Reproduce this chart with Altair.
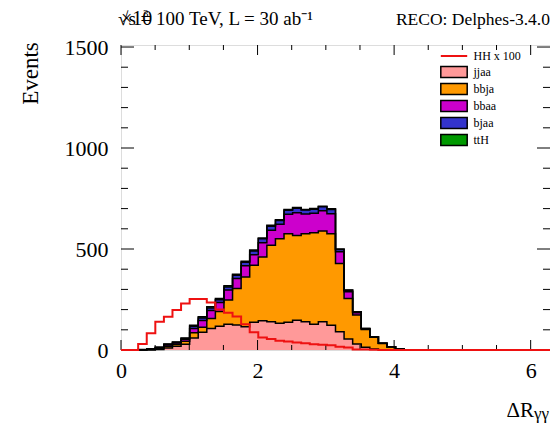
import altair as alt
import numpy as np
import pandas as pd

# ---------------- data (50 bins from 0 to 2*pi) ----------------
N_BINS = 50
X_MAX = 6.283185
jjaa = [0, 0, 0, 0, 2, 10, 18, 28, 60, 88, 106, 117, 127, 124, 115, 138, 145, 140, 133, 138,
        147, 140, 128, 140, 122, 90, 55, 30, 14, 5, 1, 0, 0, 0, 0, 0, 0, 0, 0, 0,
        0, 0, 0, 0, 0, 0, 0, 0, 0, 0]
bbja = [0, 0, 1, 2, 5, 8, 10, 15, 25, 25, 50, 73, 120, 180, 247, 281, 315, 378, 418, 438,
        420, 436, 452, 449, 454, 338, 200, 143, 88, 58, 31, 15, 4, 0, 0, 0, 0, 0, 0, 0,
        0, 0, 0, 0, 0, 0, 0, 0, 0, 0]
bbaa = [0, 0, 0.5, 2, 4, 7, 7, 10, 22, 33, 40, 45, 50, 50, 55, 53, 71, 75, 72, 96,
        113, 97, 97, 100, 98, 58, 33, 12, 3.5, 2, 1, 1, 1, 0, 0, 0, 0, 0, 0, 0,
        0, 0, 0, 0, 0, 0, 0, 0, 0, 0]
bjaa = [0, 0, 0.3, 1, 2, 3, 3, 4, 10, 12, 12, 14, 15, 16, 18, 18, 20, 20, 18, 20,
        22, 20, 20, 20, 22, 12, 8, 3, 1, 1, 0, 0, 0, 0, 0, 0, 0, 0, 0, 0,
        0, 0, 0, 0, 0, 0, 0, 0, 0, 0]
ttH = [0, 0, 0.2, 1, 1, 2, 2, 3, 6, 6, 6, 6, 6, 5, 5, 5, 4, 4, 4, 3,
       3, 3, 3, 3, 3, 2, 1, 1, 0.5, 0, 0, 0, 0, 0, 0, 0, 0, 0, 0, 0,
       0, 0, 0, 0, 0, 0, 0, 0, 0, 0]
hh_x100 = [0, 0, 30, 83, 140, 165, 198, 230, 252, 252, 235, 200, 185, 166, 128, 88, 62, 54, 46, 42,
           37, 34, 29, 26, 23, 16, 12, 3, 2, 1, 0, 0, 0, 0, 0, 0, 0, 0, 0, 0,
           0, 0, 0, 0, 0, 0, 0, 0, 0, 0]

layer_names = ["jjaa", "bbja", "bbaa", "bjaa", "ttH"]
layer_colors = ["#FF9999", "#FF9900", "#CC00CC", "#3333CC", "#009900"]
hh_name = "HH x 100"
hh_color = "#EE1111"

x_label_values = [0, 2, 4, 6]
x_minor_ticks = [0.5, 1, 1.5, 2.5, 3, 3.5, 4.5, 5, 5.5]
y_label_values = [0, 500, 1000, 1500]
y_minor_ticks = [100, 200, 300, 400, 600, 700, 800, 900, 1100, 1200, 1300, 1400]

title_left = "√s = 100 TeV, L = 30 ab⁻¹"
exp_text = "×10"
exp_sup = "3"
title_right = "RECO: Delphes-3.4.0"
x_title_main = "ΔR"
x_title_sub = "γγ"
y_title = "Events"

# ---------------- layout ----------------
W, H = 429, 305
FONT = "Liberation Serif"

edges = np.linspace(0, X_MAX, N_BINS + 1)
series = [jjaa, bbja, bbaa, bjaa, ttH]
rows = []
cum = np.zeros(N_BINS)
for name, vals in zip(layer_names, series):
    bottom = cum.copy()
    cum = cum + np.array(vals, dtype=float)
    for i in range(N_BINS + 1):
        j = min(i, N_BINS - 1)
        rows.append({"edge": float(edges[i]), "layer": name,
                     "lo": float(bottom[j]), "hi": float(cum[j])})
stack_df = pd.DataFrame(rows)

hh_df = pd.DataFrame({
    "edge": edges,
    "val": [hh_x100[min(i, N_BINS - 1)] for i in range(N_BINS + 1)],
    "name": hh_name,
})

xscale = alt.Scale(domain=[0, X_MAX], nice=False, zero=False)
yscale = alt.Scale(domain=[0, 1510], nice=False)

xaxis = alt.Axis(values=x_label_values, title=None, ticks=False, domain=False, grid=False,
                 labelFont=FONT, labelFontSize=22, labelColor="black", labelPadding=10,
                 labelFlush=False, labelOverlap=False, format="d")
yaxis = alt.Axis(values=y_label_values, ticks=False, domain=False, grid=False,
                 labelFont=FONT, labelFontSize=22, labelColor="black", labelPadding=13,
                 labelFlush=False, labelOverlap=False, format="d",
                 title=y_title, titleFont=FONT, titleFontSize=23, titleFontWeight="normal",
                 titleColor="black", titleX=-91, titleY=28, titleAngle=270,
                 titleAlign="center", titleBaseline="middle")

fill_legend = alt.Legend(title=None, orient="none", legendX=326.5, legendY=20.5,
                         symbolType="M-2.4,-1H2.4V1H-2.4Z", symbolSize=121,
                         symbolStrokeColor="black", symbolStrokeWidth=1.5, symbolOpacity=1,
                         labelFont=FONT, labelFontSize=12, labelColor="black",
                         labelOffset=13, rowPadding=0, padding=0)
line_legend = alt.Legend(title=None, orient="none", legendX=326.5, legendY=4.5,
                         symbolType="M-2.4,0H2.4", symbolSize=121, symbolStrokeWidth=2,
                         labelFont=FONT, labelFontSize=12, labelColor="black",
                         labelOffset=13, padding=0)

X = lambda f: alt.X(f, scale=xscale, axis=xaxis)
Y = lambda f: alt.Y(f, scale=yscale, axis=yaxis)

areas = alt.Chart(stack_df).mark_area(interpolate="step-after", opacity=1).encode(
    x=X("edge:Q"),
    y=Y("hi:Q"),
    y2=alt.Y2("lo:Q"),
    color=alt.Color("layer:N", scale=alt.Scale(domain=layer_names, range=layer_colors),
                    legend=fill_legend),
)

outlines = alt.Chart(stack_df).mark_line(interpolate="step-after", color="black",
                                         strokeWidth=1.5).encode(
    x=X("edge:Q"),
    y=Y("hi:Q"),
    detail="layer:N",
)

hh_line = alt.Chart(hh_df).mark_line(interpolate="step-after", strokeWidth=2).encode(
    x=X("edge:Q"),
    y=Y("val:Q"),
    stroke=alt.Stroke("name:N", scale=alt.Scale(domain=[hh_name], range=[hh_color]),
                      legend=line_legend),
)


def xticks(values, length):
    d = pd.DataFrame({"v": values})
    bot = alt.Chart(d).mark_rule(color="black", strokeWidth=1).encode(
        x=X("v:Q"), y=alt.value(H), y2=alt.value(H - length))
    top = alt.Chart(d).mark_rule(color="black", strokeWidth=1).encode(
        x=X("v:Q"), y=alt.value(0), y2=alt.value(length))
    return [bot, top]


def yticks(values, length):
    d = pd.DataFrame({"v": values})
    left = alt.Chart(d).mark_rule(color="black", strokeWidth=1).encode(
        y=Y("v:Q"), x=alt.value(0), x2=alt.value(length))
    right = alt.Chart(d).mark_rule(color="black", strokeWidth=1).encode(
        y=Y("v:Q"), x=alt.value(W), x2=alt.value(W - length))
    return [left, right]


def label(text, x, y, size, align="left"):
    return alt.Chart(pd.DataFrame({"t": [text]})).mark_text(
        font=FONT, fontSize=size, align=align, baseline="alphabetic", color="black"
    ).encode(text="t:N", x=alt.value(x), y=alt.value(y))


tick_layers = (xticks(x_label_values, 10) + xticks(x_minor_ticks, 5)
               + yticks(y_label_values, 13) + yticks(y_minor_ticks, 7))

texts = [
    label(title_left, -3, -20, 19),
    label(exp_text, 0, -20, 20),
    label(exp_sup, 22, -28.5, 11),
    label(title_right, 429, -20, 17.5, align="right"),
    label(x_title_main, 413, 372, 21, align="right"),
    label(x_title_sub, 413, 374, 17),
]

chart = alt.layer(areas, outlines, *tick_layers, hh_line, *texts).resolve_scale(
    color="independent", stroke="independent"
).properties(
    width=W, height=H,
    autosize=alt.AutoSizeParams(type="none"),
    padding={"left": 113, "top": 37, "right": 0, "bottom": 76},
).configure_view(stroke="black", strokeWidth=1).configure(background="white")

chart.save("out.html", embed_options={"renderer": "svg", "actions": False})
